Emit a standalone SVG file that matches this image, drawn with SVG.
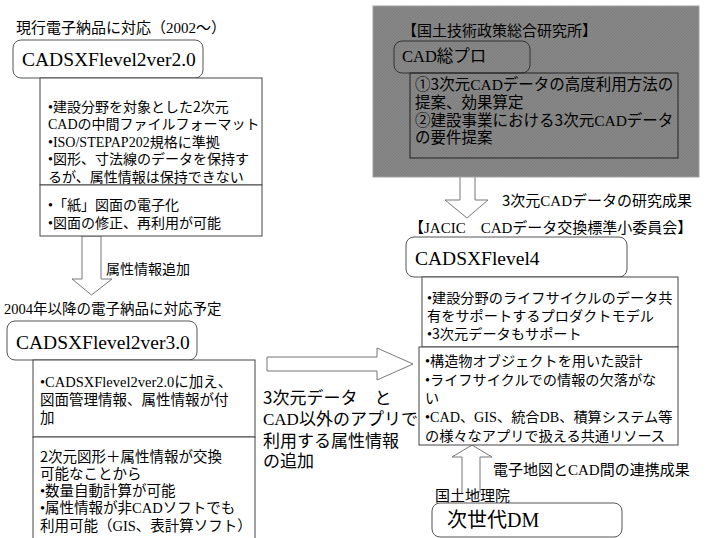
<svg xmlns="http://www.w3.org/2000/svg" width="710" height="538" viewBox="0 0 710 538">
<style>
.t{font-family:"Liberation Serif","Noto Sans CJK JP",serif;fill:#000}
.s{font-family:"Noto Sans CJK JP","Liberation Sans",sans-serif}
.f14{font-size:14px}
.f145{font-size:14.5px}
.f15{font-size:15px}
.f155{font-size:15.5px}
.f17{font-size:17px}
.big{font-size:19.5px}
.rb{fill:#fff;stroke:#555;stroke-width:1}
.rbg{fill:none;stroke:#333;stroke-width:1}
.cb{fill:#fff;stroke:#444;stroke-width:1}
.cbg{fill:none;stroke:#222;stroke-width:1}
.arr{fill:#fff;stroke:#777;stroke-width:1;stroke-linejoin:miter}
</style>
<defs>
<pattern id="hatch" width="3" height="3" patternUnits="userSpaceOnUse">
<rect width="3" height="3" fill="#878787"/>
<path d="M0,3 L3,0" stroke="#7a7a7a" stroke-width="0.8"/>
</pattern>
</defs>
<rect width="710" height="538" fill="#fff"/>

<g id="connectors">
<path class="arr" d="M82,236 L101,236 L101,279 L112,279 L91.5,295 L72,279 L82,279 Z"/>
<path class="arr" d="M460,158 L475,158 L475,200 L488,200 L467,218 L445,200 L460,200 Z"/>
<path class="arr" d="M267,357 L377,357 L377,348 L413,364 L377,380 L377,371 L267,371 Z"/>
<path class="arr" d="M462,493 L462,457 L452,457 L472,445 L492,457 L480,457 L480,493"/>
<text class="t f14" x="106" y="273.5">属性情報追加</text>
<text class="t f15" x="502" y="205.5"><tspan class="s">3</tspan>次元CADデータの研究成果</text>
<text class="t f17" x="263" y="403.5"><tspan class="s">3</tspan>次元データ　と</text>
<text class="t f17" x="263" y="424.5">CAD以外のアプリで</text>
<text class="t f17" x="263" y="446.5">利用する属性情報</text>
<text class="t f17" x="263" y="466.5">の追加</text>
<text class="t f15" x="493" y="474.5">電子地図とCAD間の連携成果</text>
</g>

<g id="node-ver20">
<text class="t f15" x="16" y="33">現行電子納品に対応（2002～）</text>
<rect class="rb" x="13" y="40" width="190" height="38" rx="8"/>
<text class="t big" x="22" y="66">CADSXFlevel2ver2.0</text>
<rect class="cb" x="40" y="78" width="222" height="107"/>
<text class="t f14" x="48" y="111.5">•建設分野を対象とした<tspan class="s">2</tspan>次元</text>
<text class="t f14" x="48" y="129">CADの中間ファイルフォーマット</text>
<text class="t f14" x="48" y="146.5">•ISO/STEPAP202規格に準拠</text>
<text class="t f14" x="48" y="164">•図形、寸法線のデータを保持す</text>
<text class="t f14" x="48" y="181.5">るが、属性情報は保持できない</text>
<rect class="cb" x="40" y="185" width="222" height="51"/>
<text class="t f14" x="48" y="210.3">•「紙」図面の電子化</text>
<text class="t f14" x="48" y="228.3">•図面の修正、再利用が可能</text>
</g>

<g id="node-ver30">
<text class="t f145" x="4" y="313.5">2004年以降の電子納品に対応予定</text>
<rect class="rb" x="7" y="321" width="190" height="39" rx="8"/>
<text class="t big" x="16" y="349">CADSXFlevel2ver3.0</text>
<rect class="cb" x="33" y="360" width="222" height="77"/>
<text class="t f145" x="40" y="386.5">•CADSXFlevel2ver2.0に加え、</text>
<text class="t f145" x="40" y="404.5">図面管理情報、属性情報が付</text>
<text class="t f145" x="40" y="422.5">加</text>
<rect class="cb" x="33" y="437" width="222" height="110"/>
<text class="t f145" x="40" y="461.5"><tspan class="s">2</tspan>次元図形＋属性情報が交換</text>
<text class="t f145" x="40" y="478.8">可能なことから</text>
<text class="t f145" x="40" y="496.1">•数量自動計算が可能</text>
<text class="t f145" x="40" y="513.4">•属性情報が非CADソフトでも</text>
<text class="t f145" x="40" y="530.7">利用可能（GIS、表計算ソフト）</text>
</g>

<g id="node-nilim">
<rect x="373" y="6" width="326" height="171" fill="url(#hatch)" stroke="#a0a0a0" stroke-width="1"/>
<text class="t f15" x="402" y="35.5">【国土技術政策総合研究所】</text>
<rect class="rbg" x="394" y="41" width="136" height="32" rx="8"/>
<text class="t" style="font-size:16.5px" x="402" y="62">CAD総プロ</text>
<rect class="cbg" x="410" y="73" width="268" height="85"/>
<text class="t f155" x="415" y="89.5">①<tspan class="s">3</tspan>次元CADデータの高度利用方法の</text>
<text class="t f155" x="415" y="107.5">提案、効果算定</text>
<text class="t f155" x="415" y="125.5">②建設事業における<tspan class="s">3</tspan>次元CADデータ</text>
<text class="t f155" x="415" y="143">の要件提案</text>
</g>

<g id="node-level4">
<text class="t f15" x="409" y="232.5">【JACIC　CADデータ交換標準小委員会】</text>
<rect class="rb" x="406" y="237" width="221" height="40" rx="8"/>
<text class="t big" x="415" y="264.5">CADSXFlevel4</text>
<rect class="cb" x="422" y="277" width="256" height="70"/>
<text class="t" style="font-size:14.2px" x="427" y="302.5">•建設分野のライフサイクルのデータ共</text>
<text class="t" style="font-size:14.2px" x="427" y="320.5">有をサポートするプロダクトモデル</text>
<text class="t" style="font-size:14.2px" x="427" y="339">•<tspan class="s">3</tspan>次元データもサポート</text>
<rect class="cb" x="419" y="347" width="259" height="98"/>
<text class="t" style="font-size:14.2px" x="425" y="366">•構造物オブジェクトを用いた設計</text>
<text class="t" style="font-size:14.2px" x="425" y="385">•ライフサイクルでの情報の欠落がな</text>
<text class="t" style="font-size:14.2px" x="425" y="403">い</text>
<text class="t" style="font-size:14.2px" x="425" y="422">•CAD、GIS、統合DB、積算システム等</text>
<text class="t" style="font-size:14.2px" x="425" y="441">の様々なアプリで扱える共通リソース</text>
</g>

<g id="node-dm">
<text class="t f15" x="435" y="500.5">国土地理院</text>
<rect class="rb" x="432" y="503" width="190" height="34" rx="8"/>
<text class="t" style="font-size:20px" x="447" y="527">次世代DM</text>
</g>
</svg>
